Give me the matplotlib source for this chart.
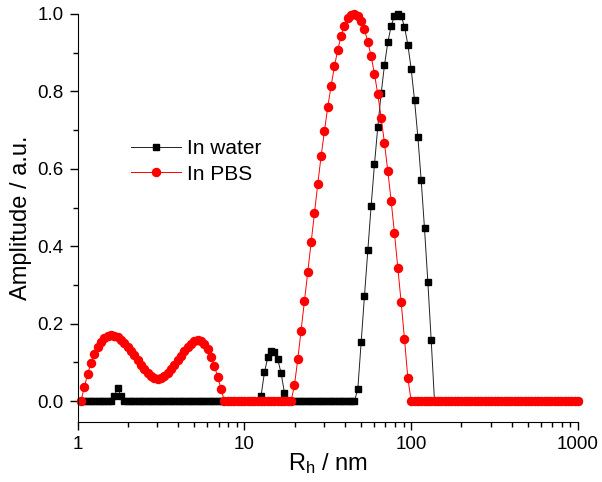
import numpy as np
import matplotlib
matplotlib.use('Agg')
import matplotlib.pyplot as plt
from matplotlib.ticker import MultipleLocator, FixedLocator, NullFormatter

plt.rcParams['font.family'] = ['Liberation Sans', 'DejaVu Sans']
plt.rcParams['mathtext.default'] = 'regular'

# DLS size bins (log spaced, 50 per decade)
r_h = np.logspace(0.02, 3, 150)

# In water (black squares)
amp_water = ([0.0] * 10
             + [0.012, 0.035, 0.012]
             + [0.0] * 41
             + [0.014, 0.074, 0.113, 0.130, 0.127, 0.108, 0.072, 0.022]
             + [0.0] * 21
             + [0.031, 0.153, 0.272, 0.390, 0.505, 0.612, 0.709, 0.795, 0.868, 0.927,
                0.969, 0.995, 1.000, 0.995, 0.967, 0.921, 0.858, 0.778, 0.683, 0.571,
                0.446, 0.308, 0.158]
             + [0.0] * 44)

# In PBS (red circles)
amp_pbs = ([0.0]
           + [0.037, 0.069, 0.099, 0.121, 0.140, 0.153, 0.163, 0.168]
           + [0.170, 0.169, 0.165, 0.159, 0.151, 0.141, 0.130, 0.118, 0.106, 0.094,
              0.083, 0.073, 0.065, 0.060, 0.058, 0.060, 0.065, 0.072, 0.082, 0.093,
              0.105, 0.117, 0.129, 0.139, 0.148, 0.154, 0.158, 0.156, 0.148]
           + [0.135, 0.115, 0.090, 0.063, 0.031]
           + [0.0] * 21
           + [0.041, 0.108, 0.182, 0.258, 0.334, 0.410, 0.487, 0.561, 0.633, 0.698,
              0.760, 0.815, 0.865, 0.908, 0.943, 0.970, 0.990, 0.997, 1.000, 0.996,
              0.983, 0.960, 0.928, 0.891, 0.845, 0.792, 0.732, 0.666, 0.594, 0.517,
              0.433, 0.345, 0.255, 0.160, 0.060]
           + [0.0] * 51)

fig = plt.figure(figsize=(6.02, 4.82), dpi=100)
ax = fig.add_axes([0.129, 0.1245, 0.831, 0.8465])

ax.plot(r_h, amp_water, color='#222222', lw=0.7, marker='s', ms=4.9,
        mec='black', mfc='black', label='In water', clip_on=False)
ax.plot(r_h, amp_pbs, color='red', lw=0.7, marker='o', ms=5.8,
        mec='red', mfc='red', label='In PBS', clip_on=False)

ax.set_xscale('log')
ax.set_xlim(1, 1000)
ax.set_ylim(-0.054, 1.0)

ax.xaxis.set_major_locator(FixedLocator([1, 10, 100, 1000]))
ax.set_xticklabels(['1', '10', '100', '1000'])
ax.xaxis.set_minor_formatter(NullFormatter())
ax.yaxis.set_major_locator(FixedLocator([0.0, 0.2, 0.4, 0.6, 0.8, 1.0]))
ax.set_yticklabels(['0.0', '0.2', '0.4', '0.6', '0.8', '1.0'])
ax.yaxis.set_minor_locator(MultipleLocator(0.1))

ax.tick_params(which='major', direction='out', length=6, width=1, labelsize=13.5, pad=4)
ax.tick_params(which='minor', direction='out', length=3.5, width=1)

ax.spines['top'].set_visible(False)
ax.spines['right'].set_visible(False)
ax.spines['left'].set_bounds(-0.054, 1.0)

ax.set_xlabel('R$_h$ / nm', fontsize=17, labelpad=-1)
ax.set_ylabel('Amplitude / a.u.', fontsize=17, labelpad=4)

ax.legend(loc='upper left', bbox_to_anchor=(0.09, 0.713), frameon=False,
          fontsize=15, handlelength=2.4, handletextpad=0.3, labelspacing=0.3,
          borderaxespad=0)

plt.savefig('out.png', dpi=100)
